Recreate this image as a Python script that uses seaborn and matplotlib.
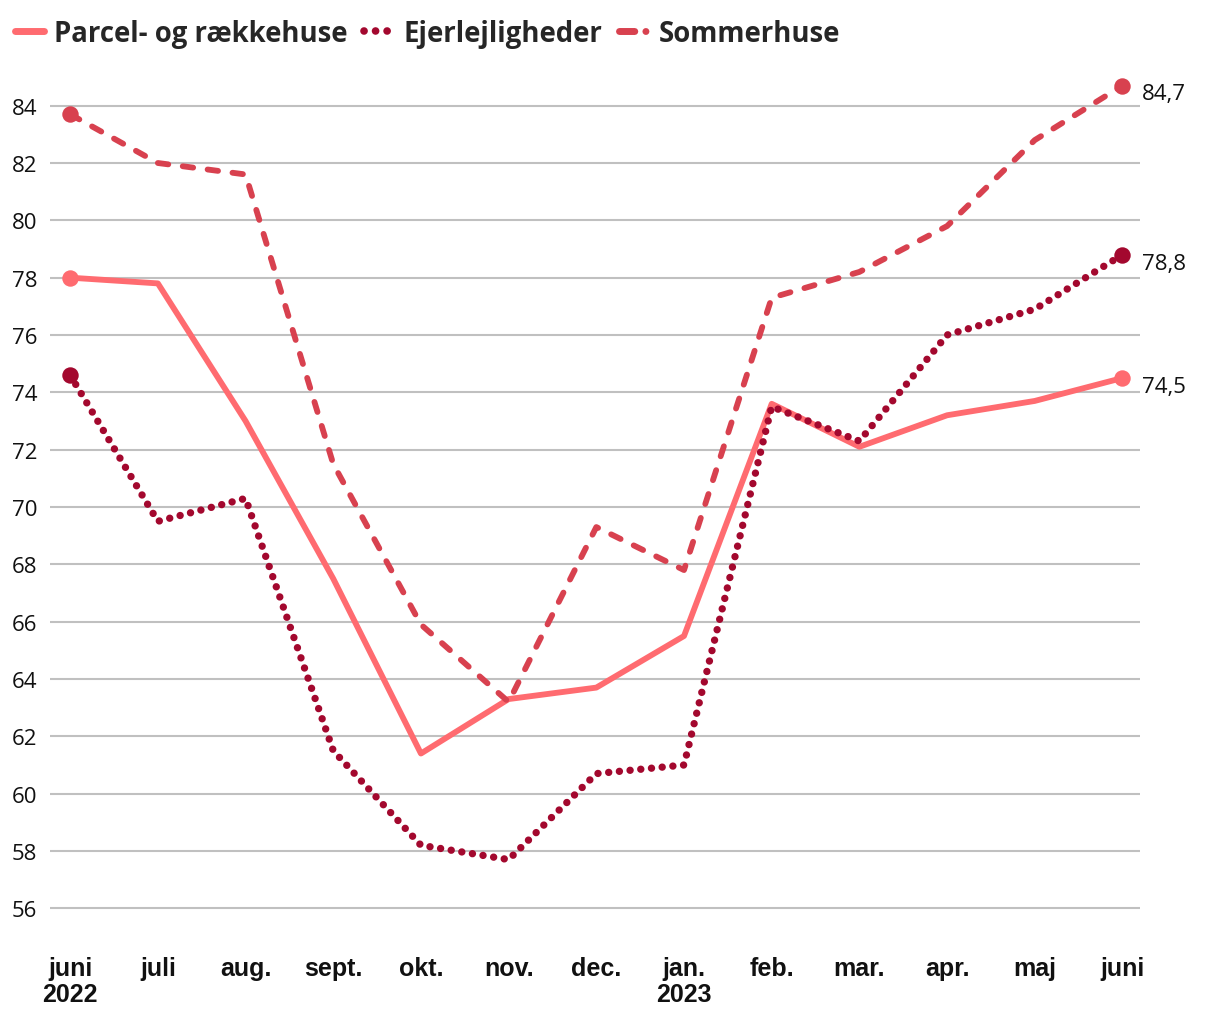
import matplotlib.pyplot as plt
from matplotlib.lines import Line2D
import seaborn as sns
import pandas as pd

months = ['juni\n2022', 'juli', 'aug.', 'sept.', 'okt.', 'nov.', 'dec.',
          'jan.\n2023', 'feb.', 'mar.', 'apr.', 'maj', 'juni']
parcel = [78.0, 77.8, 73.0, 67.5, 61.4, 63.3, 63.7, 65.5, 73.6, 72.1, 73.2, 73.7, 74.5]
ejerlejl = [74.6, 69.5, 70.3, 61.5, 58.2, 57.7, 60.7, 61.0, 73.5, 72.3, 76.0, 76.9, 78.8]
sommer = [83.7, 82.0, 81.6, 71.5, 65.9, 63.2, 69.3, 67.8, 77.3, 78.2, 79.8, 82.8, 84.7]
names = ['Parcel- og rækkehuse', 'Ejerlejligheder', 'Sommerhuse']
end_labels = ['74,5', '78,8', '84,7']

colors = {'Parcel- og rækkehuse': '#ff6b70',
          'Ejerlejligheder': '#a3082e',
          'Sommerhuse': '#d8414f'}

rows = []
for name, vals in zip(names, [parcel, ejerlejl, sommer]):
    for i, v in enumerate(vals):
        rows.append({'idx': i, 'value': v, 'serie': name})
df = pd.DataFrame(rows)

sns.set_style('white')
plt.rcParams['font.family'] = ['Open Sans', 'DejaVu Sans']

fig = plt.figure(figsize=(12.2, 10.2), dpi=100)
ax = fig.add_axes([50 / 1220, 82 / 1020, 1090 / 1220, 860 / 1020])

sns.lineplot(data=df, x='idx', y='value', hue='serie', style='serie',
             palette=colors,
             dashes={'Parcel- og rækkehuse': '',
                     'Ejerlejligheder': (0.01, 1.45),
                     'Sommerhuse': (1.8, 2.5)},
             linewidth=4.2, legend=False, ax=ax)
for line in ax.lines:
    line.set_dash_capstyle('round')
    line.set_solid_capstyle('round')
    line.set_solid_joinstyle('round')
    line.set_dash_joinstyle('round')
    if line.get_color() == colors['Ejerlejligheder']:
        line.set_linewidth(5.3)

# markers at start and end + end labels
for name, vals, lab in zip(names, [parcel, ejerlejl, sommer], end_labels):
    sub = df[(df['serie'] == name) & (df['idx'].isin([0, len(vals) - 1]))]
    ax.scatter(sub['idx'], sub['value'], s=140, color=colors[name], zorder=5,
               linewidths=0)
    ax.annotate(lab, (len(vals) - 1, vals[-1]), xytext=(14, -6),
                textcoords='offset points', ha='left', va='center',
                fontsize=16, color='#111111', annotation_clip=False)

ax.set_xlim(-0.23, 12.2)
ax.set_ylim(55, 85)
ax.set_yticks(range(56, 85, 2))
ax.set_yticklabels([str(v) for v in range(56, 85, 2)], fontsize=16, color='#111111')
ax.set_xticks(range(len(months)))
ax.set_xticklabels(months, fontsize=18, fontweight='bold', color='#111111',
                   family=['Liberation Sans Narrow', 'Liberation Sans', 'DejaVu Sans'],
                   linespacing=1.1)
ax.tick_params(axis='both', length=0)
ax.tick_params(axis='y', pad=9)
ax.tick_params(axis='x', pad=14)
ax.yaxis.grid(True, color='#c0c0c0', linewidth=1.5)
ax.set_axisbelow(True)
for s in ax.spines.values():
    s.set_visible(False)
ax.set_xlabel('')
ax.set_ylabel('')

handles = [
    Line2D([], [], color=colors['Parcel- og rækkehuse'], lw=5, solid_capstyle='round'),
    Line2D([], [], color=colors['Ejerlejligheder'], lw=5.5, dashes=(0.01, 1.5),
           dash_capstyle='round'),
    Line2D([], [], color=colors['Sommerhuse'], lw=5, dashes=(2.2, 1.6, 0.01, 1.6),
           dash_capstyle='round'),
]
fig.legend(handles, names, loc='upper left', bbox_to_anchor=(-0.008, 1.005),
           ncol=3, frameon=False, handlelength=1.05, handletextpad=0.38,
           columnspacing=0.6, prop={'size': 19.8, 'weight': 'bold'})

fig.savefig('out.png', dpi=100)
